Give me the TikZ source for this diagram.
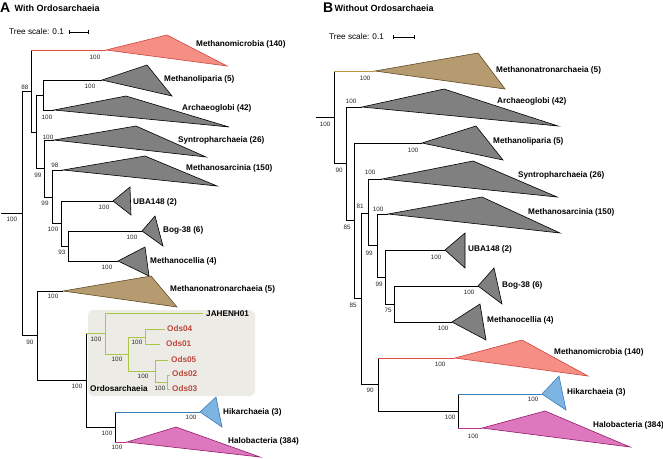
\documentclass[tikz,border=0pt]{standalone}
\usepackage{fontspec}
\setmainfont{Liberation Sans}
\definecolor{mmfill}{RGB}{245,142,132}
\definecolor{mmdraw}{RGB}{205,70,60}
\definecolor{mmbr}{RGB}{225,75,65}
\definecolor{gfill}{RGB}{128,128,128}
\definecolor{tanfill}{RGB}{183,155,112}
\definecolor{tandraw}{RGB}{95,75,35}
\definecolor{tanbr}{RGB}{190,150,70}
\definecolor{bluefill}{RGB}{125,180,225}
\definecolor{bluedraw}{RGB}{60,125,185}
\definecolor{pinkfill}{RGB}{222,120,190}
\definecolor{pinkdraw}{RGB}{150,25,105}
\definecolor{pinkbr}{RGB}{190,50,140}
\definecolor{odsred}{RGB}{190,72,62}
\definecolor{grn}{RGB}{168,198,72}
\definecolor{boxfill}{RGB}{236,235,229}
\newcommand\brch[3][black]{\draw[br] (#2) -- (#2 |- #3); \draw[br,draw=#1] (#2 |- #3) -- (#3);}
\newcommand\clade[6]{\coordinate (#1) at (#2);
  \filldraw[tri,fill=#5,draw=#6] (#2) -- (#3) -- (#4) -- cycle;}
\begin{document}
\begin{tikzpicture}[x=1pt,y=-1pt,
  br/.style={line width=0.6pt,line cap=rect},
  tri/.style={line width=0.6pt,line join=miter},
  lbl/.style={font=\bfseries\fontsize{8.2}{9}\selectfont,anchor=west,inner sep=0pt},
  ods/.style={lbl,text=odsred},
  sup/.style={font=\fontsize{6.3}{7}\selectfont,inner sep=0pt,text=black!85},
  scl/.style={font=\fontsize{8.2}{9}\selectfont,anchor=west,inner sep=0pt},
  bar/.style={line width=0.6pt,|-|,>={Bar[width=2.5pt]}}]
\path[use as bounding box] (0,0) rectangle (663,458);

% ---------------- Panel A ----------------
\node[anchor=base west,inner sep=0pt,font=\bfseries\fontsize{14}{14}\selectfont] (tA) at (0,12) {A};
\node[anchor=base west,inner sep=0pt,font=\bfseries\fontsize{9}{10}\selectfont] (tA2) at (14.5,11.5) {With Ordosarchaeia};
\node[scl] (sA) at (9,32) {Tree scale: 0.1};
\coordinate (sA1) at (69,32); \coordinate (sA2) at (88,32);
\draw[line width=0.6pt] (sA1) -- (sA2);
\draw[line width=0.6pt] (69,30) -- (69,34) (88,30) -- (88,34);

\filldraw[fill=boxfill,draw=none,rounded corners=5pt] (88,310) rectangle (255,396);

\coordinate (rA0) at (1,213);
\coordinate (rA) at (22,213);
\coordinate (A1) at (31,91);
\coordinate (A2) at (36,132);
\coordinate (A3) at (43,95);
\coordinate (A4) at (44,168);
\coordinate (A5) at (52,197);
\coordinate (A6) at (61,223);
\coordinate (A7) at (68,246);
\coordinate (A8) at (37,335);
\coordinate (A9) at (86,380);
\coordinate (A10) at (115,427);
\coordinate (G1) at (105,333);
\coordinate (G2) at (128,354);
\coordinate (G3) at (145,337);
\coordinate (G4) at (155,371);
\coordinate (G5) at (167,382);
\coordinate (Jt) at (203,313);
\coordinate (O4t) at (165,329);
\coordinate (O1t) at (160,344);
\coordinate (O5t) at (168,360);
\coordinate (O2t) at (170,375);
\coordinate (O3t) at (170,389);

\clade{mmA}{106,50}{167,35}{227,66}{mmfill}{mmdraw}
\clade{mlA}{102,80}{147,65}{172,96}{gfill}{black}
\clade{agA}{54,110}{126,96}{229,127}{gfill}{black}
\clade{spA}{54,140}{136,126}{206,157}{gfill}{black}
\clade{msA}{63,170}{145,156}{217,186}{gfill}{black}
\clade{ubA}{113,201}{130,187}{131,215}{gfill}{black}
\clade{bgA}{142,231}{155,216}{163,246}{gfill}{black}
\clade{mcA}{118,261}{145,247}{149,276}{gfill}{black}
\clade{mnA}{63,291}{151,276}{177,307}{tanfill}{tandraw}
\clade{hkA}{200,412}{216,397}{222,427}{bluefill}{bluedraw}
\clade{hbA}{127,442}{176,427}{260,457}{pinkfill}{pinkdraw}

\draw[br] (rA0) -- (rA);
\brch{rA}{A1} \brch{rA}{A8}
\brch[mmbr]{A1}{mmA} \brch{A1}{A2}
\brch{A2}{A3} \brch{A2}{A4}
\brch{A3}{mlA} \brch{A3}{agA}
\brch{A4}{spA} \brch{A4}{A5}
\brch{A5}{msA} \brch{A5}{A6}
\brch{A6}{ubA} \brch{A6}{A7}
\brch{A7}{bgA} \brch{A7}{mcA}
\brch{A8}{mnA} \brch{A8}{A9}
\brch[grn]{A9}{G1} \brch{A9}{A10}
\brch[bluedraw]{A10}{hkA} \brch[pinkbr]{A10}{hbA}
\begin{scope}[br,grn]
\draw (G1) |- (Jt); \draw (G1) |- (G2);
\draw (G2) |- (G3); \draw (G2) |- (G4);
\draw (G3) |- (O4t); \draw (G3) |- (O1t);
\draw (G4) |- (O5t); \draw (G4) |- (G5);
\draw (G5) |- (O2t); \draw (G5) |- (O3t);
\end{scope}

\node[lbl] (LmmA) at (196,44) {Methanomicrobia (140)};
\node[lbl] (LmlA) at (164,79) {Methanoliparia (5)};
\node[lbl] (LagA) at (182,108) {Archaeoglobi (42)};
\node[lbl] (LspA) at (178,140) {Syntropharchaeia (26)};
\node[lbl] (LmsA) at (186,168) {Methanosarcinia (150)};
\node[lbl] (LubA) at (133,202) {UBA148 (2)};
\node[lbl] (LbgA) at (163,230) {Bog-38 (6)};
\node[lbl] (LmcA) at (150,261) {Methanocellia (4)};
\node[lbl] (LmnA) at (170,289) {Methanonatronarchaeia (5)};
\node[lbl] (LJ) at (206,314) {JAHENH01};
\node[ods] (LO4) at (167,329) {Ods04};
\node[ods] (LO1) at (166,344) {Ods01};
\node[ods] (LO5) at (171,360) {Ods05};
\node[ods] (LO2) at (172,374) {Ods02};
\node[ods] (LO3) at (172,389) {Ods03};
\node[lbl] (LOrd) at (90,389) {Ordosarchaeia};
\node[lbl] (LhkA) at (223,412) {Hikarchaeia (3)};
\node[lbl] (LhbA) at (228,441) {Halobacteria (384)};

\node[sup] (s1) at (12,219) {100};
\node[sup] (s2) at (25,87) {88};
\node[sup] (s3) at (95,57) {100};
\node[sup] (s4) at (90,86) {100};
\node[sup] (s5) at (47,117) {100};
\node[sup] (s6) at (48,137) {100};
\node[sup] (s7) at (38,175) {99};
\node[sup] (s8) at (55,165) {98};
\node[sup] (s9) at (45,203) {99};
\node[sup] (s10) at (104,207) {100};
\node[sup] (s11) at (53,229) {100};
\node[sup] (s12) at (62,252) {93};
\node[sup] (s13) at (132,237) {100};
\node[sup] (s14) at (107,267) {100};
\node[sup] (s15) at (53,296) {100};
\node[sup] (s16) at (30,342) {90};
\node[sup] (s17) at (77,386) {100};
\node[sup] (s18) at (96,339) {100};
\node[sup] (s19) at (117,359) {100};
\node[sup] (s20) at (137,342) {100};
\node[sup] (s21) at (143,376) {100};
\node[sup] (s22) at (160,388) {100};
\node[sup] (s23) at (107,433) {100};
\node[sup] (s24) at (191,417) {100};
\node[sup] (s25) at (117,447) {100};

% ---------------- Panel B ----------------
\node[anchor=base west,inner sep=0pt,font=\bfseries\fontsize{14}{14}\selectfont] (tB) at (323,12) {B};
\node[anchor=base west,inner sep=0pt,font=\bfseries\fontsize{9}{10}\selectfont] (tB2) at (334.5,11.5) {Without Ordosarchaeia};
\node[scl] (sB) at (329,37) {Tree scale: 0.1};
\coordinate (sB1) at (393,37); \coordinate (sB2) at (414,37);
\draw[line width=0.6pt] (sB1) -- (sB2);
\draw[line width=0.6pt] (393,35) -- (393,39) (414,35) -- (414,39);

\coordinate (rB0) at (316,117);
\coordinate (rB) at (334,117);
\coordinate (B2) at (346,163);
\coordinate (B3) at (354,220);
\coordinate (B4) at (361,298);
\coordinate (B5) at (368,213);
\coordinate (B6) at (377,245);
\coordinate (B7) at (385,277);
\coordinate (B8) at (394,304);
\coordinate (B9) at (378,384);
\coordinate (B10) at (458,411);

\clade{mnB}{375,71}{478,53}{505,89}{tanfill}{tandraw}
\clade{agB}{362,107}{444,89}{558,126}{gfill}{black}
\clade{mlB}{422,143}{476,126}{503,160}{gfill}{black}
\clade{spB}{382,179}{473,161}{557,197}{gfill}{black}
\clade{msB}{388,214}{482,197}{560,233}{gfill}{black}
\clade{ubB}{445,250}{465,233}{465,268}{gfill}{black}
\clade{bgB}{478,286}{494,268}{502,304}{gfill}{black}
\clade{mcB}{452,322}{480,304}{486,340}{gfill}{black}
\clade{mmB}{455,358}{522,340}{588,376}{mmfill}{mmdraw}
\clade{hkB}{542,394}{559,376}{566,410}{bluefill}{bluedraw}
\clade{hbB}{482,428}{545,411}{630,447}{pinkfill}{pinkdraw}

\draw[br] (rB0) -- (rB);
\brch[tanbr]{rB}{mnB} \brch{rB}{B2}
\brch{B2}{agB} \brch{B2}{B3}
\brch{B3}{mlB} \brch{B3}{B4}
\brch{B4}{B5} \brch{B4}{B9}
\brch{B5}{spB} \brch{B5}{B6}
\brch{B6}{msB} \brch{B6}{B7}
\brch{B7}{ubB} \brch{B7}{B8}
\brch{B8}{bgB} \brch{B8}{mcB}
\brch[mmbr]{B9}{mmB} \brch{B9}{B10}
\brch[bluedraw]{B10}{hkB} \brch[pinkbr]{B10}{hbB}

\node[lbl] (LmnB) at (496,70) {Methanonatronarchaeia (5)};
\node[lbl] (LagB) at (497,101) {Archaeoglobi (42)};
\node[lbl] (LmlB) at (493,141) {Methanoliparia (5)};
\node[lbl] (LspB) at (518,175) {Syntropharchaeia (26)};
\node[lbl] (LmsB) at (528,212) {Methanosarcinia (150)};
\node[lbl] (LubB) at (468,249) {UBA148 (2)};
\node[lbl] (LbgB) at (502,285) {Bog-38 (6)};
\node[lbl] (LmcB) at (487,320) {Methanocellia (4)};
\node[lbl] (LmmB) at (554,352) {Methanomicrobia (140)};
\node[lbl] (LhkB) at (567,392) {Hikarchaeia (3)};
\node[lbl] (LhbB) at (593,425) {Halobacteria (384)};

\node[sup] (t1) at (325,124) {100};
\node[sup] (t2) at (365,78) {100};
\node[sup] (t3) at (351,101) {100};
\node[sup] (t4) at (339,170) {90};
\node[sup] (t5) at (413,150) {100};
\node[sup] (t6) at (347,227) {85};
\node[sup] (t7) at (353,305) {85};
\node[sup] (t8) at (360,206) {81};
\node[sup] (t9) at (370,172) {100};
\node[sup] (t10) at (369,253) {99};
\node[sup] (t11) at (378,209) {100};
\node[sup] (t12) at (379,284) {99};
\node[sup] (t13) at (436,257) {100};
\node[sup] (t14) at (388,310) {75};
\node[sup] (t15) at (469,292) {100};
\node[sup] (t16) at (443,328) {100};
\node[sup] (t17) at (370,390) {90};
\node[sup] (t18) at (440,364) {100};
\node[sup] (t19) at (450,417) {100};
\node[sup] (t20) at (533,399) {100};
\node[sup] (t21) at (473,436) {100};
\end{tikzpicture}
\end{document}
